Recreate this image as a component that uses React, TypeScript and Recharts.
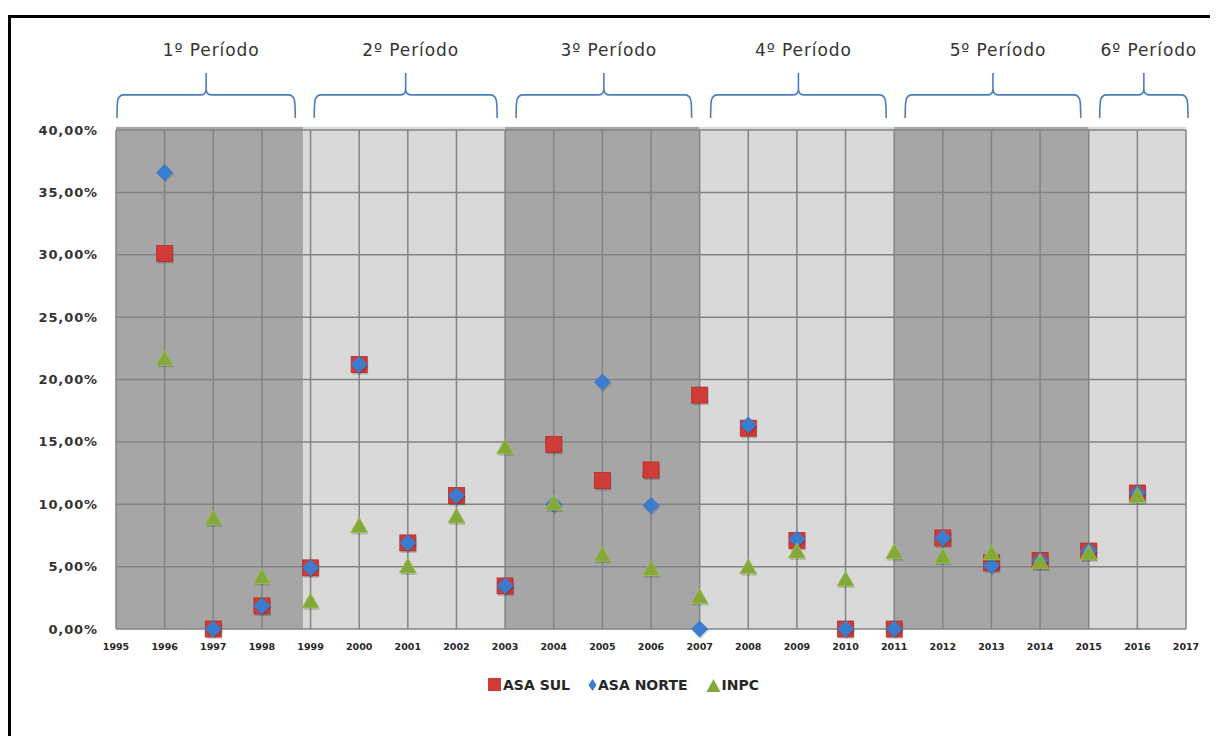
import React from 'react'
import { ScatterChart, Scatter, XAxis, YAxis, CartesianGrid, ReferenceArea } from 'recharts'

const years = [1996, 1997, 1998, 1999, 2000, 2001, 2002, 2003, 2004, 2005, 2006, 2007, 2008, 2009, 2010, 2011, 2012, 2013, 2014, 2015, 2016]
const asaSul = [30.1, 0, 1.85, 4.9, 21.2, 6.9, 10.7, 3.45, 14.8, 11.9, 12.75, 18.75, 16.1, 7.1, 0, 0, 7.3, 5.3, 5.5, 6.25, 10.9]
const asaNorte = [36.6, 0, 1.85, 4.9, 21.2, 6.9, 10.7, 3.45, 10.0, 19.8, 9.9, 0, 16.35, 7.2, 0, 0, 7.3, 5.1, 5.5, 6.25, 10.9]
const inpc = [21.7, 8.9, 4.2, 2.25, 8.3, 5.05, 9.06, 14.6, 10.1, 6.0, 4.85, 2.6, 5.0, 6.25, 4.0, 6.2, 5.85, 6.1, 5.4, 6.1, 10.7]

const xTicks = [1995, 1996, 1997, 1998, 1999, 2000, 2001, 2002, 2003, 2004, 2005, 2006, 2007, 2008, 2009, 2010, 2011, 2012, 2013, 2014, 2015, 2016, 2017]
const yTicks = [0, 5, 10, 15, 20, 25, 30, 35, 40]

const periodEdges = [1995, 1998.85, 2003, 2007, 2011, 2015, 2017]
const periodLabels = ['1º Período', '2º Período', '3º Período', '4º Período', '5º Período', '6º Período']

const seriesNames = ['ASA SUL', 'ASA NORTE', 'INPC']

const RED = '#cf3b37'
const BLUE = '#3b7dcc'
const GREEN = '#84a93a'
const BRACE = '#4a7ebb'
const FONT = '"DejaVu Sans", sans-serif'

const toPoints = (vals: number[]) => years.map((year, i) => ({ year, value: vals[i] }))

function Band(props: any) {
  const { x, y, width, height, fill, idx, count } = props
  const left = x + (idx === 0 ? 1 : 11)
  const right = x + width - (idx === count - 1 ? -2 : 8)
  const xc = (left + right) / 2
  const yb = y - 9
  const yh = y - 32
  const ya = y - 54
  const d = `M ${left} ${yb} C ${left} ${yh + 6}, ${left} ${yh}, ${left + 7} ${yh} L ${xc - 6} ${yh} Q ${xc} ${yh} ${xc} ${yh - 6} L ${xc} ${ya}` +
    ` M ${xc} ${yh - 6} Q ${xc} ${yh} ${xc + 6} ${yh} L ${right - 7} ${yh} C ${right} ${yh}, ${right} ${yh + 6}, ${right} ${yb}`
  return (
    <g>
      <rect x={x} y={y} width={width} height={height} fill={fill} />
      <path d={d} stroke={BRACE} strokeWidth={1.6} fill="none" />
      <text x={xc + 5} y={y - 71} textAnchor="middle" fontFamily={FONT} fontSize={17} letterSpacing={0.9} fill="#333">
        {periodLabels[idx]}
      </text>
    </g>
  )
}

function SquareMark(props: any) {
  const { cx, cy } = props
  return (
    <g>
      <rect x={cx - 7} y={cy - 6} width={16} height={16} fill="rgba(0,0,0,0.18)" />
      <rect x={cx - 8} y={cy - 8} width={16} height={16} fill={RED} stroke="#b32d2a" strokeWidth={0.8} />
    </g>
  )
}

function DiamondMark(props: any) {
  const { cx, cy } = props
  return (
    <g>
      <polygon points={`${cx + 1},${cy - 7} ${cx + 9.5},${cy + 1.5} ${cx + 1},${cy + 10} ${cx - 7.5},${cy + 1.5}`} fill="rgba(0,0,0,0.15)" />
      <polygon points={`${cx},${cy - 8.5} ${cx + 8.5},${cy} ${cx},${cy + 8.5} ${cx - 8.5},${cy}`} fill={BLUE} />
    </g>
  )
}

function TriangleMark(props: any) {
  const { cx, cy } = props
  return (
    <g>
      <polygon points={`${cx + 1},${cy - 6} ${cx + 9.5},${cy + 9} ${cx - 7.5},${cy + 9}`} fill="rgba(0,0,0,0.15)" />
      <polygon points={`${cx},${cy - 8} ${cx + 8.5},${cy + 7} ${cx - 8.5},${cy + 7}`} fill={GREEN} stroke="#9cc253" strokeWidth={0.8} />
    </g>
  )
}

const fmtPct = (v: number) => v.toFixed(2).replace('.', ',') + '%'

function LegendRow() {
  const item = { display: 'flex', alignItems: 'center', marginRight: 18 }
  const txt = { fontFamily: FONT, fontWeight: 700, fontSize: 14, color: '#262626' }
  return (
    <div style={{ position: 'absolute', left: 479, top: 669, display: 'flex', alignItems: 'center' }}>
      <div style={item}>
        <svg width={16} height={16}><rect x={1} y={1} width={13} height={13} fill={RED} /></svg>
        <span style={txt}>{seriesNames[0]}</span>
      </div>
      <div style={item}>
        <svg width={10} height={16}><polygon points="4.5,2 8.5,8 4.5,14 0.5,8" fill={BLUE} /></svg>
        <span style={txt}>{seriesNames[1]}</span>
      </div>
      <div style={item}>
        <svg width={16} height={16}><polygon points="7.5,2 14.5,15 0.5,15" fill={GREEN} /></svg>
        <span style={txt}>{seriesNames[2]}</span>
      </div>
    </div>
  )
}

export default function App() {
  const bands = periodLabels.map((_, i) => ({ x1: periodEdges[i], x2: periodEdges[i + 1], fill: i % 2 === 0 ? '#a6a6a6' : '#d9d9d9' }))
  return (
    <div style={{ position: 'relative', width: 1210, height: 728 }}>
      <div style={{ position: 'absolute', left: 0, top: 7, width: 1207, height: 718, borderTop: '3px solid #000', borderLeft: '3px solid #000' }} />
      <div style={{ position: 'absolute', left: 0, top: 0 }}>
        <ScatterChart width={1210} height={728} margin={{ top: 122, right: 32, bottom: 77, left: 28 }}>
          {bands.map((b, i) => (
            <ReferenceArea
              key={i}
              x1={b.x1}
              x2={b.x2}
              y1={0}
              y2={40.25}
              ifOverflow="visible"
              fill={b.fill}
              fillOpacity={1}
              shape={(p: any) => <Band {...p} fill={b.fill} idx={i} count={bands.length} />}
            />
          ))}
          <CartesianGrid stroke="#838383" strokeWidth={1.5} horizontalValues={yTicks} verticalValues={xTicks} zIndex={150} />
          <XAxis
            type="number"
            dataKey="year"
            domain={[1995, 2017]}
            ticks={xTicks}
            interval={0}
            axisLine={false}
            tickLine={false}
            tickSize={0}
            tickMargin={14}
            height={30}
            tick={{ fontFamily: FONT, fontSize: 9.5, fontWeight: 700, fill: '#262626' }}
          />
          <YAxis
            type="number"
            dataKey="value"
            domain={[0, 40]}
            ticks={yTicks}
            interval={0}
            axisLine={false}
            tickLine={false}
            tickSize={0}
            tickMargin={18}
            width={80}
            tickFormatter={fmtPct}
            tick={{ fontFamily: FONT, fontSize: 13, fontWeight: 700, fill: '#333', letterSpacing: 0.9 }}
          />
          <Scatter name={seriesNames[0]} data={toPoints(asaSul)} shape={SquareMark} isAnimationActive={false} />
          <Scatter name={seriesNames[1]} data={toPoints(asaNorte)} shape={DiamondMark} isAnimationActive={false} />
          <Scatter name={seriesNames[2]} data={toPoints(inpc)} shape={TriangleMark} isAnimationActive={false} />
        </ScatterChart>
      </div>
      <LegendRow />
    </div>
  )
}
